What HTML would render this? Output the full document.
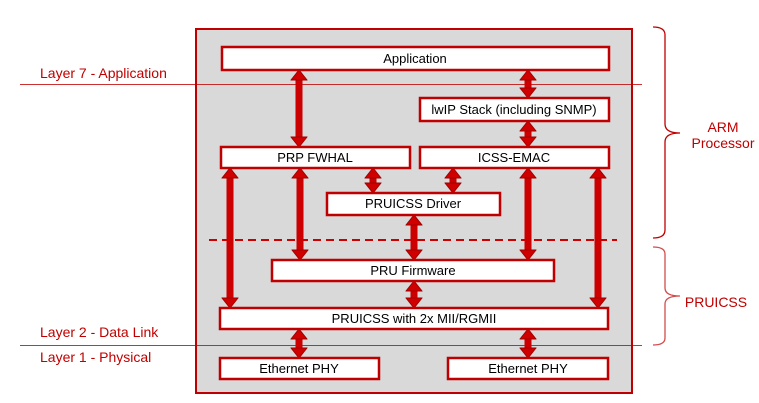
<!DOCTYPE html>
<html><head><meta charset="utf-8"><style>
html,body{margin:0;padding:0;background:#fff;}
svg{display:block;font-family:"Liberation Sans",Arial,sans-serif;}
</style></head><body>
<svg width="759" height="403" viewBox="0 0 759 403" xmlns="http://www.w3.org/2000/svg">
<defs>
<marker id="ah" markerUnits="userSpaceOnUse" markerWidth="11" markerHeight="17" refX="0.5" refY="8.5" viewBox="0 0 11 17" orient="auto-start-reverse">
<path d="M0.5,0.5 L10.5,8.5 L0.5,16.5 Z" fill="#d00000" stroke="#a00000" stroke-width="1"/>
</marker>
</defs>
<rect x="196" y="29" width="436" height="364" fill="#d9d9d9" stroke="#c00000" stroke-width="2"/>
<line x1="20" y1="84.5" x2="642" y2="84.5" stroke="#c00000" stroke-width="1" opacity="0.8"/>
<line x1="20" y1="345.5" x2="642" y2="345.5" stroke="#c00000" stroke-width="1" opacity="0.8"/>
<g stroke="#cc0000" stroke-width="7" marker-start="url(#ah)" marker-end="url(#ah)">
<line x1="299" y1="80" x2="299" y2="137"/>
<line x1="528" y1="80" x2="528" y2="88"/>
<line x1="528" y1="131" x2="528" y2="137"/>
<line x1="230" y1="178" x2="230" y2="298"/>
<line x1="300" y1="178" x2="300" y2="250"/>
<line x1="373" y1="178" x2="373" y2="183"/>
<line x1="453" y1="178" x2="453" y2="183"/>
<line x1="414" y1="225" x2="414" y2="250"/>
<line x1="528" y1="178" x2="528" y2="250"/>
<line x1="598" y1="178" x2="598" y2="298"/>
<line x1="414" y1="291" x2="414" y2="298"/>
<line x1="299" y1="339" x2="299" y2="348"/>
<line x1="528" y1="339" x2="528" y2="348"/>
</g>
<line x1="209" y1="240" x2="617" y2="240" stroke="#cc0000" stroke-width="2" stroke-dasharray="8,5"/>
<g fill="#fff" stroke="#c00000" stroke-width="2.5">
<rect x="222" y="47" width="387" height="23"/>
<rect x="420" y="98" width="189" height="23"/>
<rect x="221" y="147" width="189" height="21"/>
<rect x="420" y="147" width="189" height="21"/>
<rect x="327" y="193" width="173" height="22"/>
<rect x="272" y="260" width="282" height="21"/>
<rect x="220" y="308" width="388" height="21"/>
<rect x="220" y="358" width="159" height="21"/>
<rect x="448" y="358" width="160" height="21"/>
</g>
<g font-size="13" fill="#000" text-anchor="middle">
<text x="415" y="63">Application</text>
<text x="514" y="114">lwIP Stack (including SNMP)</text>
<text x="315" y="162">PRP FWHAL</text>
<text x="514" y="162">ICSS-EMAC</text>
<text x="413" y="208">PRUICSS Driver</text>
<text x="413" y="275">PRU Firmware</text>
<text x="414" y="323">PRUICSS with 2x MII/RGMII</text>
<text x="299" y="373">Ethernet PHY</text>
<text x="528" y="373">Ethernet PHY</text>
</g>
<g font-size="14" fill="#c00000">
<text x="40" y="78">Layer 7 - Application</text>
<text x="40" y="337">Layer 2 - Data Link</text>
<text x="40" y="362">Layer 1 - Physical</text>
<text x="723" y="132" text-anchor="middle">ARM</text>
<text x="723" y="148" text-anchor="middle">Processor</text>
<text x="716" y="307" text-anchor="middle">PRUICSS</text>
</g>
<g fill="none" stroke="#c00000" stroke-width="1.3">
<path d="M653,27 Q665,27 665,35 L665,124 Q665,133 680,133 Q665,133 665,142 L665,230 Q665,238 653,238"/>
<path d="M653,247 Q665,247 665,254 L665,288 Q665,296 680,296 Q665,296 665,304 L665,338 Q665,345 653,345" opacity="0.7"/>
</g>
</svg>
</body></html>
